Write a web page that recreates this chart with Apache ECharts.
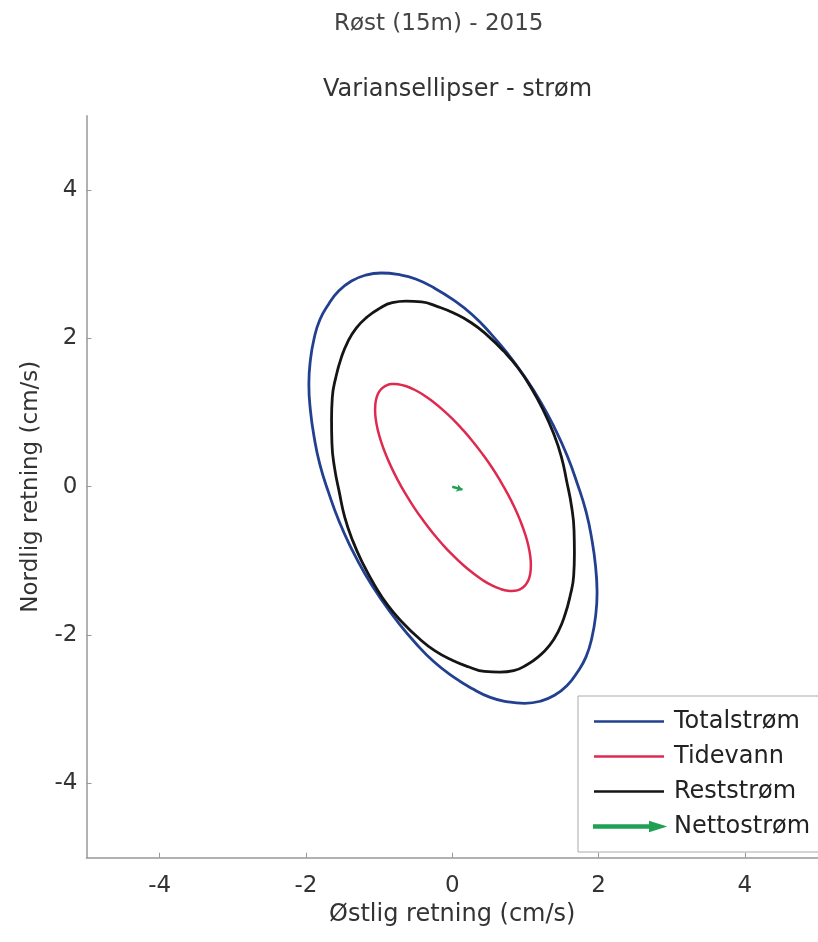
<!DOCTYPE html>
<html>
<head>
<meta charset="utf-8">
<script src="https://cdn.jsdelivr.net/npm/echarts@6/dist/echarts.min.js"></script>
<style>
html,body{margin:0;padding:0;background:#fff;}
#chart{width:818px;height:942px;}
</style>
</head>
<body>
<div id="chart"></div>
<script>
// Values (cm/s), points traced around each ellipse
const seriesNames = ['Totalstrøm', 'Tidevann', 'Reststrøm', 'Nettostrøm'];
const totalstrom = [[1.98,-1.42],[1.96,-1.08],[1.91,-0.72],[1.83,-0.34],[1.71,0.04],[1.57,0.42],[1.40,0.79],[1.21,1.14],[0.99,1.48],[0.76,1.79],[0.52,2.07],[0.27,2.32],[0.01,2.52],[-0.25,2.68],[-0.50,2.80],[-0.74,2.86],[-0.97,2.88],[-1.19,2.85],[-1.38,2.77],[-1.55,2.64],[-1.69,2.46],[-1.81,2.25],[-1.89,1.99],[-1.94,1.70],[-1.96,1.38],[-1.94,1.04],[-1.89,0.68],[-1.81,0.30],[-1.69,-0.08],[-1.55,-0.46],[-1.38,-0.83],[-1.19,-1.18],[-0.97,-1.52],[-0.74,-1.83],[-0.50,-2.11],[-0.25,-2.36],[0.01,-2.56],[0.27,-2.72],[0.52,-2.84],[0.76,-2.90],[0.99,-2.92],[1.21,-2.89],[1.40,-2.81],[1.57,-2.68],[1.71,-2.50],[1.83,-2.29],[1.91,-2.03],[1.96,-1.74],[1.98,-1.42],[1.96,-1.08]];
const tidevann = [[1.075,-1.062],[1.066,-0.933],[1.039,-0.789],[0.994,-0.631],[0.932,-0.463],[0.855,-0.287],[0.763,-0.106],[0.658,0.077],[0.543,0.258],[0.418,0.434],[0.286,0.603],[0.149,0.762],[0.01,0.907],[-0.129,1.036],[-0.266,1.147],[-0.398,1.24],[-0.523,1.31],[-0.638,1.357],[-0.743,1.382],[-0.79,1.385],[-0.835,1.383],[-0.912,1.359],[-0.974,1.313],[-1.019,1.243],[-1.046,1.153],[-1.055,1.042],[-1.046,0.913],[-1.019,0.769],[-0.974,0.611],[-0.912,0.443],[-0.835,0.267],[-0.743,0.086],[-0.638,-0.097],[-0.523,-0.278],[-0.398,-0.454],[-0.266,-0.623],[-0.129,-0.782],[0.01,-0.927],[0.149,-1.056],[0.286,-1.167],[0.418,-1.26],[0.543,-1.33],[0.658,-1.377],[0.763,-1.402],[0.81,-1.405],[0.855,-1.403],[0.932,-1.379],[0.994,-1.333],[1.039,-1.263],[1.066,-1.173],[1.075,-1.062],[1.066,-0.933]];
const reststrom = [[1.67,-0.90],[1.665,-0.59],[1.63,-0.26],[1.565,0.07],[1.49,0.41],[1.38,0.73],[1.24,1.04],[1.08,1.33],[0.90,1.60],[0.70,1.83],[0.48,2.04],[0.26,2.21],[0.02,2.34],[-0.21,2.43],[-0.42,2.49],[-0.63,2.50],[-0.82,2.48],[-1.00,2.40],[-1.16,2.29],[-1.31,2.14],[-1.43,1.95],[-1.52,1.73],[-1.59,1.48],[-1.64,1.20],[-1.65,0.90],[-1.645,0.59],[-1.61,0.26],[-1.545,-0.07],[-1.47,-0.41],[-1.36,-0.73],[-1.22,-1.04],[-1.06,-1.33],[-0.88,-1.60],[-0.68,-1.83],[-0.46,-2.04],[-0.24,-2.21],[0.00,-2.34],[0.23,-2.43],[0.44,-2.49],[0.65,-2.50],[0.84,-2.48],[1.02,-2.40],[1.18,-2.29],[1.33,-2.14],[1.45,-1.95],[1.54,-1.73],[1.61,-1.48],[1.66,-1.20],[1.67,-0.90],[1.665,-0.59]];
const nettostrom = [[0,0],[0.14,-0.04]];
const xTicks = [-4, -2, 0, 2, 4];
const yTicks = [-4, -2, 0, 2, 4];
const colors = ['#22408f', '#df2a4f', '#151515', '#1fa155'];

const font = '"DejaVu Sans", "Liberation Sans", Arial, sans-serif';
const chart = echarts.init(document.getElementById('chart'), null, {renderer: 'canvas'});

const lineIcon = 'path://M0,0 L70,0 L70,2.6 L0,2.6 Z';
const arrowIcon = 'path://M0,3.2 L56,3.2 L56,0 L70,4.5 L56,9 L56,5.8 L0,5.8 Z';

const option = {
  backgroundColor: '#fff',
  animation: false,
  title: [
    {text: 'Røst (15m) - 2015', left: 329, top: 8,
     textStyle: {fontFamily: font, fontSize: 23, fontWeight: 'normal', color: '#444'}},
    {text: 'Variansellipser - strøm', left: 318, top: 73,
     textStyle: {fontFamily: font, fontSize: 24, fontWeight: 'normal', color: '#333'}}
  ],
  legend: {
    orient: 'vertical',
    left: 578, top: 696,
    padding: [13, 30, 13, 15],
    itemWidth: 70, itemHeight: 12, itemGap: 10,
    backgroundColor: '#fff',
    borderColor: '#aaa', borderWidth: 1,
    textStyle: {fontFamily: font, fontSize: 24, lineHeight: 25, color: '#222', padding: [0,0,0,5]},
    data: [
      {name: seriesNames[0], icon: lineIcon, itemStyle: {color: colors[0]}},
      {name: seriesNames[1], icon: lineIcon, itemStyle: {color: colors[1]}},
      {name: seriesNames[2], icon: lineIcon, itemStyle: {color: colors[2]}},
      {name: seriesNames[3], icon: arrowIcon, itemStyle: {color: colors[3]}}
    ]
  },
  grid: {left: 86.5, top: 115.7, right: -10, bottom: 84.3, containLabel: false},
  xAxis: {
    type: 'value', min: -5, max: 5, interval: 1,
    name: 'Østlig retning (cm/s)', nameLocation: 'middle', nameGap: 44,
    nameTextStyle: {fontFamily: font, fontSize: 24, color: '#333'},
    axisLine: {show: true, onZero: false, lineStyle: {color: '#999', width: 1.5}},
    axisTick: {show: true, inside: true, length: 5, customValues: xTicks, lineStyle: {color: '#999'}},
    axisLabel: {customValues: xTicks, fontFamily: font, fontSize: 23, color: '#333', margin: 17},
    splitLine: {show: false}
  },
  yAxis: {
    type: 'value', min: -5, max: 5, interval: 1,
    name: 'Nordlig retning (cm/s)', nameLocation: 'middle', nameGap: 44,
    nameTextStyle: {fontFamily: font, fontSize: 23, color: '#333'},
    axisLine: {show: true, onZero: false, lineStyle: {color: '#999', width: 1.5}},
    axisTick: {show: true, inside: true, length: 5, customValues: yTicks, lineStyle: {color: '#999'}},
    axisLabel: {customValues: yTicks, fontFamily: font, fontSize: 23, color: '#333', margin: 9},
    splitLine: {show: false}
  },
  series: [
    {name: seriesNames[0], type: 'line', data: totalstrom, smooth: 0.5, showSymbol: false,
     lineStyle: {color: colors[0], width: 2.8}, itemStyle: {color: colors[0]}},
    {name: seriesNames[1], type: 'line', data: tidevann, smooth: 0.5, showSymbol: false,
     lineStyle: {color: colors[1], width: 2.5}, itemStyle: {color: colors[1]}},
    {name: seriesNames[2], type: 'line', data: reststrom, smooth: 0.5, showSymbol: false,
     lineStyle: {color: colors[2], width: 2.8}, itemStyle: {color: colors[2]}},
    {name: seriesNames[3], type: 'lines', coordinateSystem: 'cartesian2d',
     data: [{coords: nettostrom}], symbol: ['none', 'arrow'], symbolSize: 6,
     lineStyle: {color: colors[3], width: 2.5, opacity: 1}, itemStyle: {color: colors[3]}}
  ]
};
chart.setOption(option);
</script>
</body>
</html>
